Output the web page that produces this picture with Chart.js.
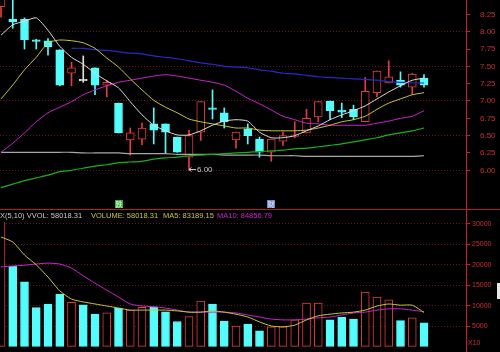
<!DOCTYPE html>
<html>
<head>
<meta charset="utf-8">
<script src="https://cdn.jsdelivr.net/npm/chart.js@4.4.1/dist/chart.umd.min.js"></script>
<style>
  html, body { margin: 0; padding: 0; background: #000; }
  #wrap { position: relative; width: 500px; height: 352px; overflow: hidden; background: #000; }
  #kline { position: absolute; left: 0; top: 0; }
  #vol { position: absolute; left: 0; top: 210px; }
</style>
</head>
<body>
<div id="wrap">
  <canvas id="kline" width="500" height="210"></canvas>
  <canvas id="vol" width="500" height="142"></canvas>
</div>
<script>
// daily candles, left to right (first one is cut off by the panel edge)
var open  = [8.36, 8.18, 8.18, 7.88, 7.87, 7.74, 7.40, 7.29, 7.48, 7.23, 6.97, 6.44, 6.45, 6.67, 6.67, 6.48, 6.19, 6.55, 6.90, 6.83, 6.44, 6.60, 6.45, 6.26, 6.42, 6.49, 6.54, 6.77, 7.00, 6.87, 6.88, 6.70, 7.12, 7.26, 7.30, 7.20, 7.33];
var high  = [8.60, 8.50, 8.20, 7.89, 7.90, 7.74, 7.56, 7.65, 7.48, 7.30, 6.97, 6.61, 6.68, 6.90, 6.67, 6.48, 6.58, 6.99, 7.16, 6.90, 6.55, 6.67, 6.48, 6.45, 6.55, 6.70, 6.88, 6.99, 7.00, 6.97, 6.94, 7.34, 7.43, 7.58, 7.42, 7.40, 7.38];
var low   = [8.21, 8.05, 7.75, 7.75, 7.66, 7.22, 7.22, 7.27, 7.09, 7.06, 6.54, 6.22, 6.37, 6.38, 6.25, 6.26, 6.00, 6.43, 6.74, 6.61, 6.32, 6.38, 6.19, 6.13, 6.36, 6.47, 6.54, 6.70, 6.73, 6.76, 6.73, 6.70, 7.06, 7.26, 7.20, 7.10, 7.20];
var close = [8.55, 8.14, 7.88, 7.86, 7.78, 7.23, 7.48, 7.29, 7.23, 7.27, 6.54, 6.54, 6.61, 6.58, 6.55, 6.26, 6.50, 6.99, 6.88, 6.70, 6.55, 6.50, 6.26, 6.45, 6.50, 6.50, 6.75, 6.99, 6.86, 6.84, 6.77, 7.14, 7.43, 7.35, 7.23, 7.39, 7.23];

// price moving averages
var ma5   = [7.95, 8.10, 8.15, 8.20, 8.02, 7.79, 7.63, 7.53, 7.40, 7.29, 7.19, 6.99, 6.80, 6.65, 6.57, 6.51, 6.51, 6.57, 6.65, 6.71, 6.73, 6.71, 6.55, 6.47, 6.47, 6.50, 6.57, 6.64, 6.73, 6.80, 6.86, 6.93, 7.03, 7.13, 7.22, 7.30, 7.33];
var ma10  = [7.03, 7.23, 7.45, 7.63, 7.84, 7.88, 7.87, 7.84, 7.76, 7.62, 7.49, 7.32, 7.16, 7.01, 6.91, 6.83, 6.74, 6.70, 6.67, 6.64, 6.61, 6.61, 6.58, 6.57, 6.57, 6.57, 6.58, 6.61, 6.65, 6.70, 6.73, 6.78, 6.88, 6.97, 7.03, 7.09, 7.12];
var ma20  = [6.26, 6.39, 6.54, 6.70, 6.83, 6.91, 6.99, 7.09, 7.16, 7.22, 7.27, 7.30, 7.33, 7.36, 7.38, 7.36, 7.33, 7.30, 7.27, 7.23, 7.14, 7.04, 6.96, 6.87, 6.78, 6.73, 6.68, 6.67, 6.65, 6.65, 6.65, 6.65, 6.68, 6.71, 6.75, 6.78, 6.86];
var ma60  = [5.75, 5.80, 5.85, 5.89, 5.93, 5.98, 6.00, 6.03, 6.06, 6.08, 6.11, 6.12, 6.13, 6.16, 6.18, 6.19, 6.21, 6.22, 6.23, 6.24, 6.25, 6.26, 6.27, 6.28, 6.29, 6.31, 6.32, 6.34, 6.36, 6.38, 6.41, 6.44, 6.47, 6.51, 6.54, 6.57, 6.61];
var ma120 = [null, null, null, null, null, null, 7.76, 7.76, 7.74, 7.73, 7.71, 7.69, 7.68, 7.65, 7.63, 7.61, 7.58, 7.55, 7.53, 7.50, 7.49, 7.48, 7.45, 7.43, 7.40, 7.39, 7.37, 7.35, 7.34, 7.33, 7.32, 7.31, 7.30, 7.28, 7.27, 7.26, 7.26];
var ma250 = [6.26, 6.26, 6.26, 6.26, 6.26, 6.26, 6.26, 6.25, 6.25, 6.25, 6.25, 6.24, 6.24, 6.24, 6.24, 6.23, 6.23, 6.23, 6.23, 6.22, 6.22, 6.22, 6.22, 6.21, 6.21, 6.21, 6.20, 6.20, 6.20, 6.20, 6.20, 6.20, 6.20, 6.20, 6.20, 6.20, 6.21];

// volume (x10) and its averages
var volume  = [33000, 19700, 15800, 9500, 10400, 12800, 10800, 10200, 7900, 8200, 9400, 8900, 9600, 9700, 8500, 6100, 7300, 11100, 10400, 6200, 5000, 5500, 3800, 4800, 4800, 6500, 10600, 10600, 6500, 7200, 6700, 13300, 12100, 11400, 6300, 7000, 5800];
var volMa5  = [26800, 25600, 22400, 20000, 17000, 13600, 11600, 10900, 10400, 9900, 9400, 8900, 8900, 8900, 8900, 8700, 8400, 8400, 8700, 8400, 7900, 7200, 6000, 5000, 4800, 5200, 6500, 7500, 7900, 8200, 8400, 8900, 9900, 10400, 10100, 10100, 8320];
var volMa10 = [19500, 19700, 19900, 20200, 20400, 20200, 19200, 17300, 15500, 13800, 12100, 10400, 9900, 9700, 9400, 8900, 8400, 8400, 8400, 8400, 8200, 7700, 7200, 6700, 6500, 6500, 6700, 7000, 7200, 7700, 8200, 8400, 8900, 9200, 9200, 8900, 8490];

var priceTicks = [6.00, 6.25, 6.50, 6.75, 7.00, 7.25, 7.50, 7.75, 8.00, 8.25];
var volTicks = [5000, 10000, 15000, 20000, 25000, 30000];
var markerDays = [10, 23];
var markerText = ['跌', '财'];
var lowMarkDay = 16;

var RED = '#e23c3c', CYAN = '#54fcfc', FLAT = '#e0e0e0';
var idx = open.map(function (v, i) { return i; });

function pts(arr) { return idx.map(function (i) { return {x: i, y: arr[i]}; }); }
function span(a, b) { return idx.map(function (i) { return {x: i, y: [a[i], b[i]]}; }); }
function kColor(i) { return close[i] > open[i] ? RED : (close[i] < open[i] ? CYAN : FLAT); }
function maLine(arr, color, w) {
  return {type: 'line', data: pts(arr), borderColor: color, borderWidth: w || 1,
    pointRadius: 0, tension: 0.2, order: 0, spanGaps: false};
}

// x range so that one day is 11.75px and the first candle sits half outside
var xMin = -1 / 11.75, xMax = xMin + 466 / 11.75;

var klineDecor = {
  id: 'klineDecor',
  afterDraw: function (chart) {
    var ctx = chart.ctx, xs = chart.scales.x, ys = chart.scales.y;
    ctx.save();
    ctx.strokeStyle = '#b41e1e';
    ctx.lineWidth = 1;
    ctx.beginPath(); ctx.moveTo(0, 209.5); ctx.lineTo(500, 209.5); ctx.stroke();

    // lowest price note
    var lx = xs.getPixelForValue(lowMarkDay);
    var ly = Math.round(ys.getPixelForValue(low[lowMarkDay])) - 0.5;
    ctx.strokeStyle = '#c8c8c8';
    ctx.beginPath();
    ctx.moveTo(lx, ly); ctx.lineTo(lx + 7, ly);
    ctx.moveTo(lx, ly); ctx.lineTo(lx + 2.5, ly - 2);
    ctx.moveTo(lx, ly); ctx.lineTo(lx + 2.5, ly + 2);
    ctx.stroke();
    ctx.fillStyle = '#c8c8c8';
    ctx.font = '8px "Liberation Sans"';
    ctx.textBaseline = 'middle';
    ctx.fillText(low[lowMarkDay].toFixed(2), lx + 8, ly + 0.5);

    // event markers
    var bg = ['#38b038', '#6c88c8'], fg = ['#e8ffe8', '#f0f4ff'];
    markerDays.forEach(function (d, k) {
      var mx = Math.round(xs.getPixelForValue(d)) - 4;
      ctx.fillStyle = bg[k];
      ctx.fillRect(mx, 200, 8, 8);
      ctx.fillStyle = fg[k];
      ctx.font = '7px "Noto Sans CJK SC"';
      ctx.textAlign = 'center';
      ctx.fillText(markerText[k], mx + 4, 204);
    });
    ctx.restore();
  }
};

new Chart(document.getElementById('kline'), {
  type: 'bar',
  data: {
    datasets: [
      maLine(ma5, '#dcdcdc'),
      maLine(ma10, '#c8c832'),
      maLine(ma20, '#cc22cc'),
      maLine(ma60, '#18b018', 1.2),
      maLine(ma120, '#2828c8', 1.2),
      maLine(ma250, '#a8a8a8', 1.2),
      {type: 'bar', data: span(open, close), grouped: false, order: 2,
        backgroundColor: idx.map(function (i) { return close[i] > open[i] ? '#000' : kColor(i); }),
        borderColor: idx.map(kColor), borderWidth: 1, borderSkipped: false,
        barThickness: 8, minBarLength: 1.5},
      {type: 'bar', data: span(low, high), grouped: false, order: 3,
        backgroundColor: idx.map(kColor), barThickness: 1}
    ]
  },
  options: {
    responsive: false,
    animation: false,
    layout: {padding: 0},
    plugins: {legend: {display: false}, tooltip: {enabled: false}},
    scales: {
      x: {type: 'linear', min: xMin, max: xMax, offset: false, display: false},
      y: {
        position: 'right', min: 5.4271, max: 8.4574,
        afterBuildTicks: function (s) { s.ticks = priceTicks.map(function (v) { return {value: v}; }); },
        afterFit: function (s) { s.width = 34; s.paddingTop = 0; s.paddingBottom = 0; },
        grid: {
          color: function (c) { return c.tick && Math.round(c.tick.value * 4) % 2 === 0 ? '#6e1414' : 'rgba(0,0,0,0)'; },
          tickColor: '#c82020', tickLength: 4, lineWidth: 1
        },
        border: {color: '#c82020', width: 1, dash: [1, 2]},
        ticks: {color: '#c83232', padding: 10, font: {family: 'Liberation Sans', size: 8},
          callback: function (v) { return Number(v).toFixed(2); }}
      }
    }
  },
  plugins: [klineDecor]
});

var volDecor = {
  id: 'volDecor',
  afterDraw: function (chart) {
    var ctx = chart.ctx, a = chart.chartArea;
    ctx.save();
    ctx.strokeStyle = '#c82020';
    ctx.lineWidth = 1;
    ctx.beginPath(); ctx.moveTo(a.right + 0.5, 0); ctx.lineTo(a.right + 0.5, a.top); ctx.stroke();

    ctx.font = '7.5px "Liberation Sans"';
    ctx.textBaseline = 'middle';
    var parts = [
      ['X(5,10) VVOL: 58018.31', 0, '#c8c8c8'],
      ['VOLUME: 58018.31', 91, '#c8c832'],
      ['MA5: 83189.15', 163, '#c8c832'],
      ['MA10: 84856.79', 217, '#cc22cc']
    ];
    parts.forEach(function (p) { ctx.fillStyle = p[2]; ctx.fillText(p[0], p[1], 5.5); });

    ctx.fillStyle = '#c83232';
    ctx.font = '7px "Liberation Sans"';
    ctx.fillText('X10', a.right + 2, chart.scales.y.getPixelForValue(0) - 3.5);

    ctx.fillStyle = '#e8e8e8';
    ctx.fillRect(497, 73, 3, 16);
    ctx.restore();
  }
};

new Chart(document.getElementById('vol'), {
  type: 'bar',
  data: {
    datasets: [
      maLine(volMa5, '#c8c832'),
      maLine(volMa10, '#cc22cc'),
      {type: 'bar', data: pts(volume), order: 2,
        backgroundColor: idx.map(function (i) { return close[i] > open[i] ? '#000' : CYAN; }),
        borderColor: idx.map(function (i) { return close[i] > open[i] ? RED : CYAN; }),
        borderWidth: 1, borderSkipped: false, barThickness: 8}
    ]
  },
  options: {
    responsive: false,
    animation: false,
    layout: {padding: {top: 12}},
    plugins: {legend: {display: false}, tooltip: {enabled: false}},
    scales: {
      x: {type: 'linear', min: xMin, max: xMax, offset: false, display: false},
      y: {
        position: 'right', min: -1372, max: 30490,
        afterBuildTicks: function (s) { s.ticks = volTicks.map(function (v) { return {value: v}; }); },
        afterFit: function (s) { s.width = 34; s.paddingTop = 0; s.paddingBottom = 0; },
        grid: {color: '#6e1414', tickColor: '#c82020', tickLength: 4, lineWidth: 1},
        border: {color: '#c82020', width: 1, dash: [1, 2]},
        ticks: {color: '#c83232', padding: 2, font: {family: 'Liberation Sans', size: 7},
          callback: function (v) { return String(v); }}
      }
    }
  },
  plugins: [volDecor]
});
</script>
</body>
</html>
